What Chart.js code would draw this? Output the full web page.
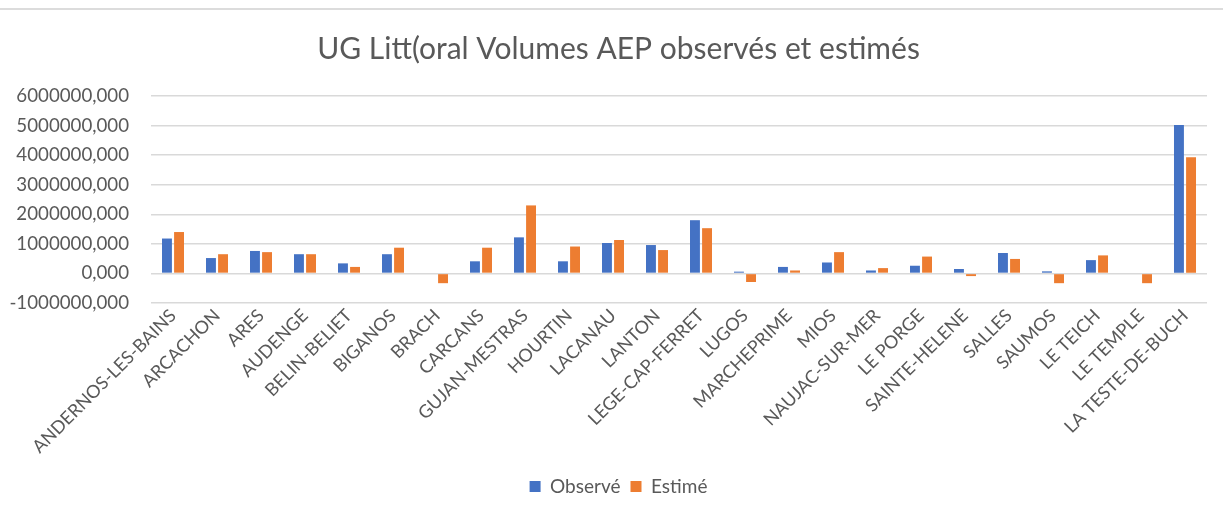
<!DOCTYPE html>
<html lang="fr">
<head>
<meta charset="utf-8">
<title>UG Littoral – Volumes AEP</title>
<script src="https://cdn.jsdelivr.net/npm/chart.js@4.4.1/dist/chart.umd.min.js"></script>
<style>
  html, body { margin: 0; padding: 0; background: #ffffff; }
  #wrap { width: 1223px; height: 515px; position: relative; }
</style>
</head>
<body>
<div id="wrap"><canvas id="chart" width="1223" height="515"></canvas></div>
<script>
// Communes of the UG Littoral
const communes = [
  'ANDERNOS-LES-BAINS', 'ARCACHON', 'ARES', 'AUDENGE', 'BELIN-BELIET', 'BIGANOS',
  'BRACH', 'CARCANS', 'GUJAN-MESTRAS', 'HOURTIN', 'LACANAU', 'LANTON',
  'LEGE-CAP-FERRET', 'LUGOS', 'MARCHEPRIME', 'MIOS', 'NAUJAC-SUR-MER', 'LE PORGE',
  'SAINTE-HELENE', 'SALLES', 'SAUMOS', 'LE TEICH', 'LE TEMPLE', 'LA TESTE-DE-BUCH'
];

// Observed drinking-water volumes
const observe = [
  1180000, 520000, 760000, 650000, 340000, 650000,
  0, 410000, 1220000, 410000, 1030000, 960000,
  1800000, 60000, 220000, 370000, 100000, 260000,
  150000, 690000, 70000, 450000, 0, 5020000
];

// Estimated drinking-water volumes
const estime = [
  1400000, 650000, 720000, 650000, 220000, 870000,
  -330000, 870000, 2300000, 910000, 1130000, 790000,
  1530000, -290000, 100000, 720000, 180000, 570000,
  -90000, 490000, -330000, 610000, -330000, 3930000
];

// Value axis
const yMin = -1000000;
const yMax = 6000000;
const yStep = 1000000;

const textGrey = '#595959';
const gridGrey = '#d9d9d9';
const fontFamily = 'Lato, "Open Sans", sans-serif';

// White background plus a thin grey rule along the top edge of the frame
const frame = {
  id: 'frame',
  beforeDraw(chart) {
    const ctx = chart.ctx;
    ctx.save();
    ctx.fillStyle = '#ffffff';
    ctx.fillRect(0, 0, chart.width, chart.height);
    ctx.strokeStyle = '#dcdcdc';
    ctx.lineWidth = 2;
    ctx.beginPath();
    ctx.moveTo(0, 9);
    ctx.lineTo(chart.width, 9);
    ctx.stroke();
    ctx.restore();
  }
};

// Centre the title and legend on the whole frame rather than the boxed area
const recentre = {
  id: 'recentre',
  afterLayout(chart) {
    const shift = 15;
    [chart.titleBlock, chart.legend].forEach((box) => {
      if (box) { box.left += shift; box.right += shift; }
    });
  }
};

new Chart(document.getElementById('chart'), {
  type: 'bar',
  data: {
    labels: communes,
    datasets: [
      {
        label: 'Observé',
        data: observe,
        backgroundColor: '#4472c4',
        categoryPercentage: 0.55,
        barPercentage: 0.82
      },
      {
        label: 'Estimé',
        data: estime,
        backgroundColor: '#ed7d31',
        categoryPercentage: 0.55,
        barPercentage: 0.82
      }
    ]
  },
  options: {
    responsive: false,
    animation: false,
    events: [],
    layout: { padding: { top: 0, left: 0, right: 16, bottom: 9 } },
    plugins: {
      title: {
        display: true,
        text: 'UG Litt(oral Volumes AEP observés et estimés',
        color: textGrey,
        font: { family: fontFamily, size: 30, weight: 'normal' },
        padding: { top: 31, bottom: 29 }
      },
      legend: {
        display: true,
        position: 'bottom',
        labels: {
          color: textGrey,
          font: { family: fontFamily, size: 19 },
          boxWidth: 11,
          boxHeight: 11,
          padding: 10
        }
      },
      tooltip: { enabled: false }
    },
    scales: {
      x: {
        grid: { display: false, drawTicks: false },
        border: { display: false },
        ticks: {
          color: textGrey,
          font: { family: fontFamily, size: 18 },
          autoSkip: false,
          maxRotation: 45,
          minRotation: 45,
          padding: 2
        },
        afterFit(scale) { scale.height = 164; }
      },
      y: {
        min: yMin,
        max: yMax,
        grid: { color: gridGrey, lineWidth: 1.5, drawTicks: false },
        border: { display: false },
        ticks: {
          stepSize: yStep,
          color: textGrey,
          font: { family: fontFamily, size: 18.7 },
          padding: 22,
          callback: (v) => Number(v).toFixed(3).replace('.', ',')
        },
        afterFit(scale) { scale.width = 151; }
      }
    }
  },
  plugins: [frame, recentre]
});
</script>
</body>
</html>
